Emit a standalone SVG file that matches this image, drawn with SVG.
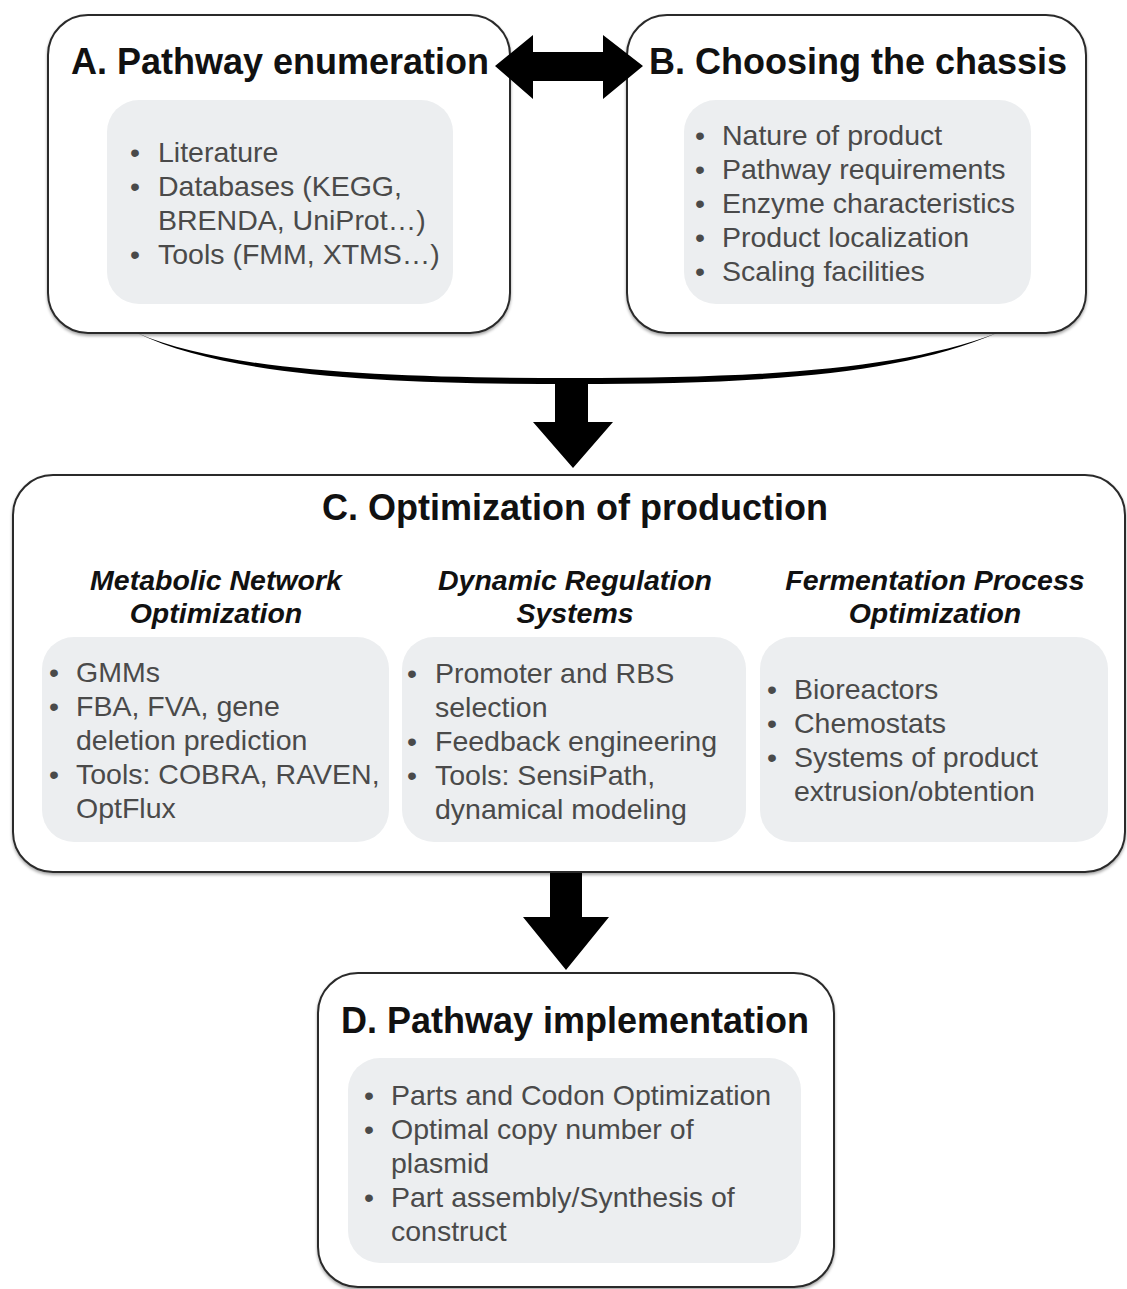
<svg xmlns="http://www.w3.org/2000/svg" width="1127" height="1289" viewBox="0 0 1127 1289">
<defs>
<filter id="sh" x="-5%" y="-5%" width="110%" height="115%">
<feDropShadow dx="0" dy="2" stdDeviation="1.5" flood-color="#000" flood-opacity="0.35"/>
</filter>
<style>
.box{fill:#fff;stroke:#2a2a2a;stroke-width:2;filter:url(#sh)}
.inner{fill:#eceef0;stroke:none}
.title{font-family:"Liberation Sans",Arial,Helvetica,sans-serif;font-weight:bold;font-size:36px;fill:#111;text-anchor:middle}
.sub{font-family:"Liberation Sans",Arial,Helvetica,sans-serif;font-weight:bold;font-style:italic;font-size:28.5px;fill:#111;text-anchor:middle}
.item{font-family:"Liberation Sans",Arial,Helvetica,sans-serif;font-size:28.5px;fill:#4a4a4a}
.arrow{fill:#000;stroke:none}
</style>
</defs>
<rect width="1127" height="1289" fill="#fff"/>

<g id="nodeA">
<rect class="box" x="48" y="15" width="462" height="318" rx="40"/>
<text class="title" x="280" y="74">A. Pathway enumeration</text>
<rect class="inner" x="107" y="100" width="346" height="204" rx="32"/>
<g class="item">
<text x="130" y="162">•</text><text x="158" y="162">Literature</text>
<text x="130" y="196">•</text><text x="158" y="196">Databases (KEGG,</text>
<text x="158" y="230">BRENDA, UniProt…)</text>
<text x="130" y="264">•</text><text x="158" y="264">Tools (FMM, XTMS…)</text>
</g>
</g>

<g id="nodeB">
<rect class="box" x="627" y="15" width="459" height="318" rx="40"/>
<text class="title" x="858" y="74">B. Choosing the chassis</text>
<rect class="inner" x="684" y="100" width="347" height="204" rx="32"/>
<g class="item">
<text x="695" y="145">•</text><text x="722" y="145">Nature of product</text>
<text x="695" y="179">•</text><text x="722" y="179">Pathway requirements</text>
<text x="695" y="213">•</text><text x="722" y="213">Enzyme characteristics</text>
<text x="695" y="247">•</text><text x="722" y="247">Product localization</text>
<text x="695" y="281">•</text><text x="722" y="281">Scaling facilities</text>
</g>
</g>

<g id="nodeC">
<rect class="box" x="13" y="475" width="1112" height="397" rx="40"/>
<text class="title" x="575" y="520">C. Optimization of production</text>
<text class="sub" x="216" y="590">Metabolic Network</text>
<text class="sub" x="216" y="623">Optimization</text>
<text class="sub" x="575" y="590">Dynamic Regulation</text>
<text class="sub" x="575" y="623">Systems</text>
<text class="sub" x="935" y="590">Fermentation Process</text>
<text class="sub" x="935" y="623">Optimization</text>
<rect class="inner" x="42" y="637" width="347" height="205" rx="32"/>
<rect class="inner" x="402" y="637" width="344" height="205" rx="32"/>
<rect class="inner" x="760" y="637" width="348" height="205" rx="32"/>
<g class="item">
<text x="49" y="682">•</text><text x="76" y="682">GMMs</text>
<text x="49" y="716">•</text><text x="76" y="716">FBA, FVA, gene</text>
<text x="76" y="750">deletion prediction</text>
<text x="49" y="784">•</text><text x="76" y="784">Tools: COBRA, RAVEN,</text>
<text x="76" y="818">OptFlux</text>
<text x="407" y="683">•</text><text x="435" y="683">Promoter and RBS</text>
<text x="435" y="717">selection</text>
<text x="407" y="751">•</text><text x="435" y="751">Feedback engineering</text>
<text x="407" y="785">•</text><text x="435" y="785">Tools: SensiPath,</text>
<text x="435" y="819">dynamical modeling</text>
<text x="767" y="699">•</text><text x="794" y="699">Bioreactors</text>
<text x="767" y="733">•</text><text x="794" y="733">Chemostats</text>
<text x="767" y="767">•</text><text x="794" y="767">Systems of product</text>
<text x="794" y="801">extrusion/obtention</text>
</g>
</g>

<g id="nodeD">
<rect class="box" x="318" y="973" width="516" height="314" rx="40"/>
<text class="title" x="575" y="1033">D. Pathway implementation</text>
<rect class="inner" x="348" y="1058" width="453" height="205" rx="32"/>
<g class="item">
<text x="364" y="1105">•</text><text x="391" y="1105">Parts and Codon Optimization</text>
<text x="364" y="1139">•</text><text x="391" y="1139">Optimal copy number of</text>
<text x="391" y="1173">plasmid</text>
<text x="364" y="1207">•</text><text x="391" y="1207">Part assembly/Synthesis of</text>
<text x="391" y="1241">construct</text>
</g>
</g>

<g id="connectors">
<polygon class="arrow" points="495,66 533,35 533,52 603,52 603,35 643,66 603,99 603,81 533,81 533,99"/>
<path class="arrow" d="M137,333 C230,373 400,378 574,378 C760,378 900,370 997,333 C900,375 760,384 574,384 C400,384 230,378 137,333 Z"/>
<polygon class="arrow" points="555,383 588,383 588,422 613,422 573,468 533,422 555,422"/>
<polygon class="arrow" points="550,873 582,873 582,917 609,917 566,970 523,917 550,917"/>
</g>
</svg>
